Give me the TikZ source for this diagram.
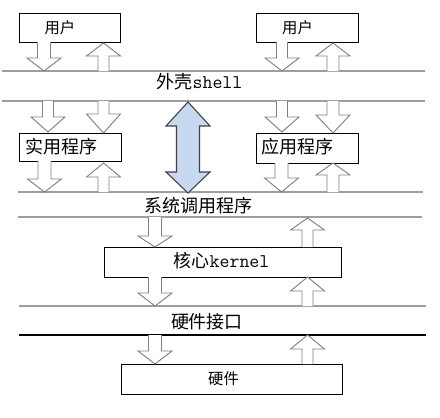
\documentclass[tikz,border=0pt]{standalone}
\usepackage{fontspec}
\setmainfont{Noto Sans CJK SC}
\begin{document}
\begin{tikzpicture}[x=0.75pt,y=-0.75pt,
  layerbox/.style={draw=black,line width=0.6pt,fill=white,inner sep=0pt},
  layerline/.style={draw=black!38,line width=0.8pt},
  hardline/.style={draw=black,line width=0.8pt},
  hollow/.style={draw=black!50,line width=0.7pt,fill=white,line join=miter},
  bigarrow/.style={draw=black!75,line width=0.8pt,fill={rgb,255:red,198;green,217;blue,241}},
  big/.style={font=\fontsize{13.5}{16}\selectfont,inner sep=0pt},
  small/.style={font=\fontsize{11.5}{14}\selectfont,inner sep=0pt}]
\useasboundingbox (0,0) rectangle (440,418);

% hollow block arrows: centre x, open end y, head base y, tip y, shaft half width
\newcommand\blockarrow[5]{%
  \draw[hollow] (#1-#5,#2) -- (#1-#5,#3) -- (#1-17,#3) -- (#1,#4)
    -- (#1+17,#3) -- (#1+#5,#3) -- (#1+#5,#2);}

% layer separators
\draw[layerline] (2,71) -- (425,71);
\draw[layerline] (2,101) -- (425,101);
\draw[layerline] (18,192) -- (423,192);
\draw[layerline] (18,217) -- (422,217);
\draw[layerline] (19,306) -- (426,306);
\draw[hardline] (19,335) -- (426,335);

% boxes (sizes in pt, 1 unit = 0.75pt)
\node[layerbox,minimum width=75.75pt,minimum height=21.75pt] (userL) at (69.5,27.5) {};
\node[layerbox,minimum width=76.5pt,minimum height=21.75pt] (userR) at (307,27.5) {};
\node[layerbox,minimum width=76.5pt,minimum height=21pt] (util) at (70,147) {};
\node[layerbox,minimum width=76.5pt,minimum height=22.5pt] (app) at (307,148) {};
\node[layerbox,minimum width=177.75pt,minimum height=22.5pt] (kern) at (222.5,262) {};
\node[layerbox,minimum width=165.75pt,minimum height=22.5pt] (hw) at (231.5,379) {};

% box texts
\node[small] (tuserL) at (60,28) {用户};
\node[small] (tuserR) at (297.5,28) {用户};
\node[big] (tutil) at (61.5,147) {实用程序};
\node[big] (tapp) at (297.5,147) {应用程序};
\node[big] (tkern) at (221.5,261) {核心{\fontsize{14.5}{16}\selectfont\ttfamily\addfontfeatures{LetterSpace=6}kernel}};
\node[small] (thw) at (223.5,379) {硬件};

% layer texts
\node[big] (tshell) at (199.5,82) {外壳{\fontsize{14.5}{16}\selectfont\ttfamily\addfontfeatures{LetterSpace=20}shell}};
\node[big] (tsys) at (198,206) {系统调用程序};
\node[big] (tif) at (207,322) {硬件接口};

% users <-> shell
\blockarrow{44}{42}{58}{71}{6.5}
\blockarrow{103.5}{71}{56}{43}{5.5}
\blockarrow{282}{42}{58}{71}{5.5}
\blockarrow{333}{71}{56}{43}{6}

% shell <-> programs
\blockarrow{48}{101}{117}{132}{5.5}
\blockarrow{103.5}{101}{114}{133}{5.5}
\blockarrow{282}{101}{117}{132}{5.5}
\blockarrow{333}{101}{115}{133}{6}

% programs <-> system calls
\blockarrow{44.5}{161}{179}{192}{6.5}
\blockarrow{103.5}{192}{177}{163}{5.5}
\blockarrow{281.5}{163}{178}{192}{6.5}
\blockarrow{333}{192}{175}{163}{6}

% system calls <-> kernel
\blockarrow{155}{217}{236}{247}{6.5}
\blockarrow{307.5}{247}{230}{218}{5.5}

% kernel <-> hardware interface
\blockarrow{155}{277}{293}{306}{6.5}
\blockarrow{307.5}{306}{291}{277}{5.5}

% hardware interface <-> hardware
\blockarrow{155}{335}{351}{364}{6.5}
\blockarrow{307.5}{364}{349}{335}{5.5}

% shell <-> system calls, direct path
\draw[bigarrow] (188,102) -- (210,126) -- (199.5,126) -- (199.5,172) -- (210,172)
  -- (188,193) -- (166,172) -- (176.5,172) -- (176.5,126) -- (166,126) -- cycle;
\end{tikzpicture}
\end{document}
